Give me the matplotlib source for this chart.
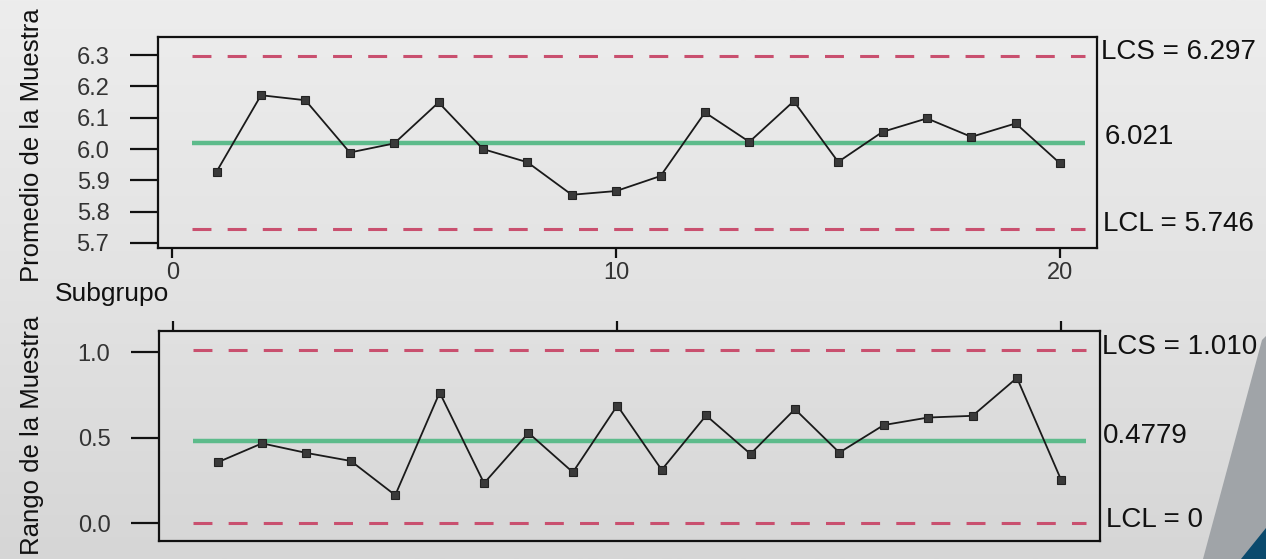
import numpy as np
import matplotlib
matplotlib.use("Agg")
import matplotlib.pyplot as plt
from matplotlib.patches import Polygon
from matplotlib.colors import LinearSegmentedColormap

plt.rcParams['font.family'] = ['Liberation Sans', 'DejaVu Sans']

# ---------------- data ----------------
subgrupos = list(range(1, 21))
promedios = [5.928, 6.172, 6.156, 5.989, 6.018, 6.149, 6.000, 5.958, 5.854, 5.866,
             5.914, 6.117, 6.023, 6.153, 5.959, 6.055, 6.098, 6.039, 6.082, 5.954]
rangos = [0.355, 0.466, 0.410, 0.363, 0.163, 0.763, 0.233, 0.527, 0.297, 0.687,
          0.311, 0.629, 0.404, 0.666, 0.412, 0.573, 0.617, 0.627, 0.849, 0.249]

xbar_lcs, xbar_cl, xbar_lcl = 6.297, 6.021, 5.746
r_lcs, r_cl, r_lcl = 1.010, 0.4779, 0.0

xbar_labels = ["LCS = 6.297", "6.021", "LCL = 5.746"]
r_labels = ["LCS = 1.010", "0.4779", "LCL = 0"]

xbar_yticks = [5.7, 5.8, 5.9, 6.0, 6.1, 6.2, 6.3]
r_yticks = [0.0, 0.5, 1.0]
x_ticks = [0, 10, 20]

# ---------------- figure ----------------
W, H = 1266, 559
fig = plt.figure(figsize=(W / 100, H / 100), dpi=100)

# background gradient
bg = fig.add_axes([0, 0, 1, 1], zorder=-10)
grad = np.linspace(0, 1, 256).reshape(-1, 1)
cmap = LinearSegmentedColormap.from_list("bg", ["#ededed", "#e3e3e3", "#d6d6d6"])
bg.imshow(grad, aspect='auto', cmap=cmap, extent=[0, 1, 0, 1], origin='upper')
bg.set_xlim(0, 1); bg.set_ylim(0, 1)
bg.axis('off')

def fx(px):
    return px / W

def fy(py):
    return 1 - py / H

# decoration bottom-right (slide shapes)
bg.add_patch(Polygon([[fx(1203), fy(559)], [fx(1262), fy(340)], [fx(1266), fy(336)],
                      [fx(1266), fy(559)]], closed=True, color="#a0a4a8", lw=0))
bg.add_patch(Polygon([[fx(1241), fy(559)], [fx(1266), fy(528)], [fx(1266), fy(559)]],
                     closed=True, color="#0b4a6d", lw=0))

limit_color = "#c9506f"
center_color = "#5dbb8b"
data_color = "#1a1a1a"
marker_color = "#3a3a3a"


def style_axes(ax):
    ax.set_facecolor('none')
    for s in ax.spines.values():
        s.set_linewidth(1.6)
        s.set_color("#111111")
    ax.tick_params(axis='y', direction='out', length=20, width=1.6, pad=15,
                   labelsize=17, colors="#111111", labelcolor="#333333")
    ax.tick_params(axis='x', direction='out', length=7, width=1.6, pad=3,
                   labelsize=17, colors="#111111", labelcolor="#333333")


def draw_chart(ax, values, lcs, cl, lcl):
    ax.hlines([lcs, lcl], 0.45, 20.55, colors=limit_color, linewidth=2.2,
              linestyles=(0, (6.2, 5.3)), zorder=2)
    ax.hlines(cl, 0.45, 20.55, colors=center_color, linewidth=3.2, zorder=2)
    ax.plot(subgrupos, values, color=data_color, linewidth=1.3, marker='s',
            markersize=6, markerfacecolor=marker_color, markeredgecolor="#222222",
            markeredgewidth=0.8, zorder=3)


# top: X-bar chart
ax1 = fig.add_axes([fx(158), fy(248), fx(1097) - fx(158), fy(37) - fy(248)])
draw_chart(ax1, promedios, xbar_lcs, xbar_cl, xbar_lcl)
ax1.set_xlim(-0.32, 20.83)
ax1.set_ylim(5.684, 6.358)
ax1.set_yticks(xbar_yticks)
ax1.set_yticklabels([f"{v:.1f}" for v in xbar_yticks])
ax1.set_xticks(x_ticks)
ax1.set_xticklabels([str(v) for v in x_ticks])
style_axes(ax1)

# bottom: R chart
ax2 = fig.add_axes([fx(159), fy(541), fx(1100) - fx(159), fy(331) - fy(541)])
draw_chart(ax2, rangos, r_lcs, r_cl, r_lcl)
ax2.set_xlim(-0.32, 20.87)
ax2.set_ylim(-0.105, 1.123)
ax2.set_yticks(r_yticks)
ax2.set_yticklabels([f"{v:.1f}" for v in r_yticks])
ax2.set_xticks(x_ticks)
style_axes(ax2)
ax2.tick_params(axis='x', bottom=False, top=True, labelbottom=False, labeltop=False,
                length=7)

# right side labels
txt_kw = dict(fontsize=20, color="#111111", va='center', ha='left')
for (px, py), t in zip([(1101, 52), (1105, 137), (1103, 224)], xbar_labels):
    fig.text(fx(px), fy(py), t, **txt_kw)
for (px, py), t in zip([(1102, 347), (1103, 436), (1106, 520)], r_labels):
    fig.text(fx(px), fy(py), t, **txt_kw)

# axis labels
fig.text(fx(32), fy(145), "Promedio de la Muestra", rotation=90, fontsize=18.5,
         color="#111111", va='center', ha='center')
fig.text(fx(32), fy(435), "Rango de la Muestra", rotation=90, fontsize=18.5,
         color="#111111", va='center', ha='center')
fig.text(fx(55), fy(294), "Subgrupo", fontsize=19, color="#111111",
         va='center', ha='left')

fig.savefig("out.png", dpi=100)
